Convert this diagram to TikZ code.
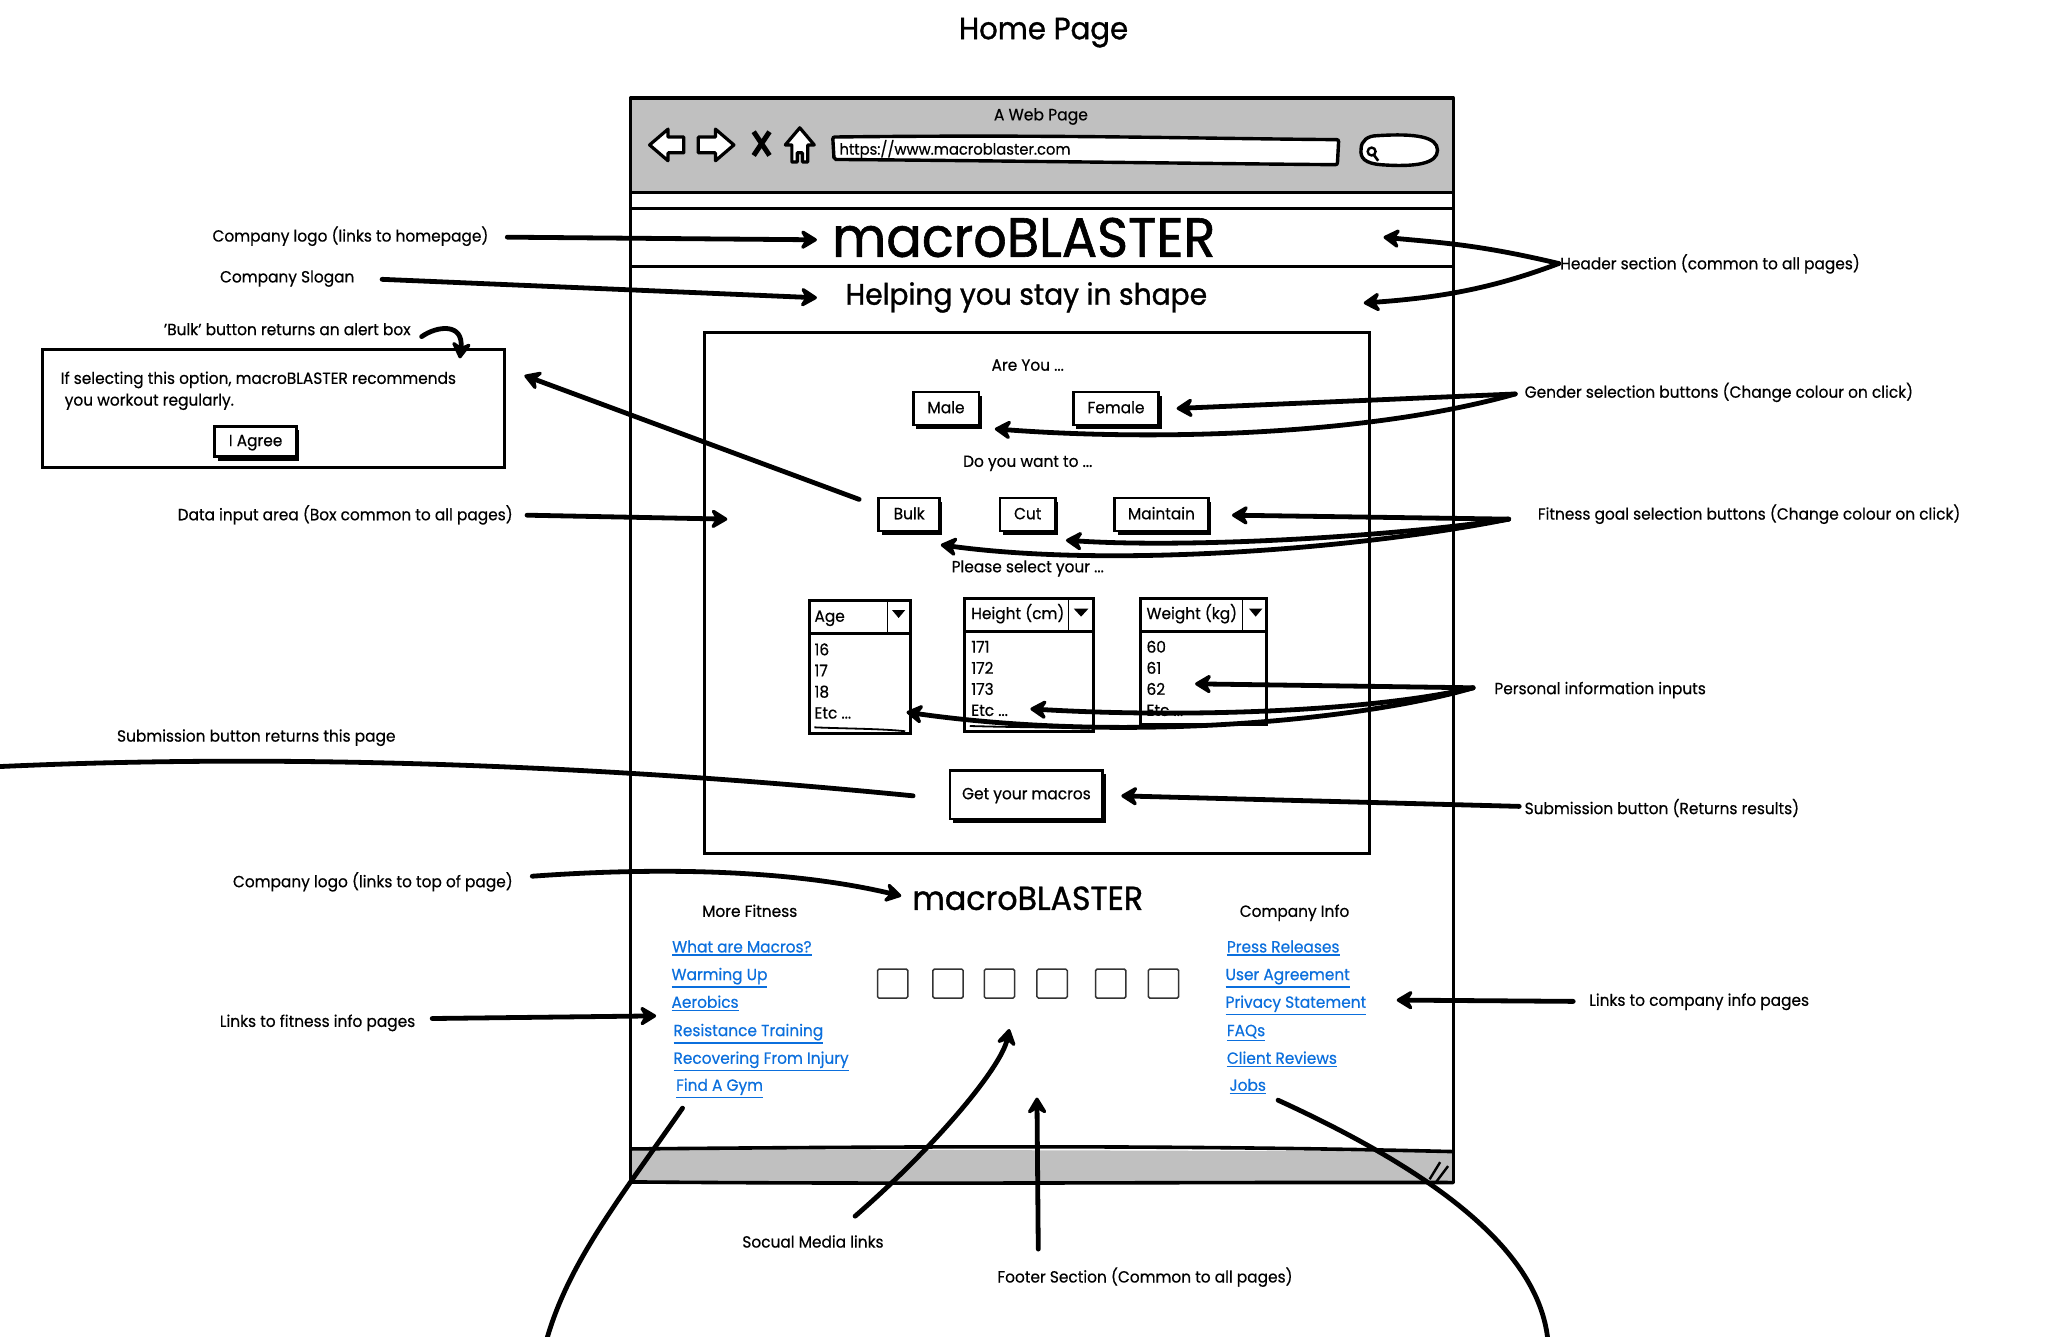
\documentclass[tikz,border=0pt]{standalone}
\usepackage{fontspec}
\setmainfont{Poppins}[FakeStretch=0.95,FakeBold=0.5]
\usetikzlibrary{arrows.meta,shadows,positioning}
\newdimen\uu \uu=1.3176pt
\definecolor{greybar}{HTML}{C0C0C0}
\definecolor{linkblue}{HTML}{0B6FDD}
\definecolor{sqline}{HTML}{333333}
\newcommand{\lk}[1]{\leavevmode\smash{\rlap{\vtop{\hbox{\phantom{#1}}\kern1.6pt\hrule height 1.6pt}}}#1}
\tikzset{
  lab/.style={font=\fontsize{16.2}{20}\selectfont,inner sep=0pt,text=black,yshift=-1pt,text height=13pt,text depth=3.5pt},
  big/.style={lab,text height={},text depth={},font={\fontsize{#1}{#1}\selectfont\addfontfeature{FakeBold=1.1}}},
  lft/.style={lab,anchor=west},
  conn/.style={line width=4.8pt,line cap=round,-{Stealth[length=20pt,width=24pt,inset=7pt,round]}},
  plainconn/.style={line width=4.8pt,line cap=round},
  btn/.style={draw=black,fill=white,line width=2.8pt,lab,yshift=1pt,
     general shadow={fill=black,shadow xshift=3pt,shadow yshift=-4pt}},
  lnk/.style={lab,anchor=west,text=linkblue},
  sq/.style={draw=sqline,line width=1.5pt,fill=white,rounded corners=1.5pt,minimum width=23\uu,minimum height=22\uu,inner sep=0pt},
  dropbox/.style={draw=black,line width=3pt,fill=white},
  wline/.style={line width=3.6pt,line join=round},
  icon/.style={draw=black,fill=white,line width=3.2pt,line join=round},
}
\begin{document}
\begin{tikzpicture}[x=\uu,y=-\uu]
\useasboundingbox (0,0) rectangle (1568,1014);
% title
\node[big=30.7] (title) at (792,24) {Home Page};
% browser window
\draw[wline,fill=white] (478.5,74.5) rectangle (1103,897);
\fill[greybar] (478.5,74.5) rectangle (1103,146);
\draw[wline] (478.5,74.5) -- (1103,74.5);
\draw[wline] (478.5,74.5) -- (478.5,146) (1103,74.5) -- (1103,146);
\draw[wline] (478.5,146) -- (1103,146);
\draw[line width=3pt] (478.5,158) -- (1103,158) -- (1103,202.5) -- (478.5,202.5) -- cycle;
\node[lab,font=\fontsize{16.4}{19}\selectfont] (wtitle) at (790,87) {A Web Page};
% toolbar icons
\draw[icon] (493,110) -- (507,98) -- (507,104) -- (519,104) -- (519,116) -- (507,116) -- (507,122) -- cycle;
\draw[icon] (557,110) -- (543,98) -- (543,104) -- (530,104) -- (530,116) -- (543,116) -- (543,122) -- cycle;
\draw[line width=5pt] (572,100) -- (584,118) (584,100) -- (572,118);
\draw[icon] (607,97) -- (618,110) -- (613,110) -- (613,123) -- (609,123) -- (609,116) -- (605,116) -- (605,123) -- (601,123) -- (601,110) -- (596,110) -- cycle;
\draw[line width=3.4pt,fill=white,rounded corners=2pt] (632,104) .. controls (800,102) and (900,105) .. (1016,106) -- (1015,125) .. controls (900,124) and (760,122) .. (633,121) -- cycle;
\node[lft,font=\fontsize{15.5}{19}\selectfont] (url) at (637,113) {https://www.macroblaster.com};
\draw[line width=3.4pt,fill=white] (1045,103) .. controls (1075,101) and (1091,104) .. (1091,114) .. controls (1091,124) and (1075,127) .. (1048,125) .. controls (1036,124) and (1032,120) .. (1033,113) .. controls (1033,107) and (1038,103) .. (1045,103) -- cycle;
\draw[line width=2.4pt] (1041,115) circle (3);
\draw[line width=2.6pt] (1043,118) -- (1046,122);
% footer bar
\fill[greybar] (478.5,872) -- (1103,874) -- (1103,897.5) -- (478.5,897.5) -- cycle;
\draw[wline] (478.5,872) .. controls (700,870) and (900,869) .. (1103,874);
\draw[wline] (478.5,897) .. controls (700,899) and (900,897) .. (1103,897.5);
\draw[wline] (478.5,872) -- (478.5,897) (1103,872) -- (1103,897.5);
\draw[line width=2.4pt] (1085,895) -- (1093,882) (1090,897) -- (1099,885);
% header content
\node[big=55.3] (logo) at (777,179.5) {macroBLASTER};
\node[big=29.6] (slogan) at (779,225) {Helping you stay in shape};
% data box
\draw[line width=3pt] (535,252) rectangle (1039,648);
\node[lab] (areyou) at (780,277) {Are You ...};
\node[btn,minimum width=50\uu,minimum height=25\uu] (male) at (718,310) {Male};
\node[btn,minimum width=65\uu,minimum height=25\uu] (female) at (847,310) {Female};
\node[lab] (doyou) at (780,350) {Do you want to ...};
\node[btn,minimum width=46\uu,minimum height=25\uu] (bulk) at (690,390.5) {Bulk};
\node[btn,minimum width=42\uu,minimum height=25\uu] (cut) at (780,390.5) {Cut};
\node[btn,minimum width=71\uu,minimum height=25\uu] (maintain) at (881.5,390.5) {Maintain};
\node[lab] (please) at (780,430) {Please select your ...};
% dropdowns
\draw[dropbox] (614,455.5) rectangle (691,481);
\draw[dropbox] (614,481) rectangle (691,557);
\draw[line width=1.8pt] (673.5,456) -- (673.5,480);
\fill (677,463) -- (687,463) -- (682,469) -- cycle;
\draw[line width=1.8pt] (618,552) .. controls (640,553) and (670,553) .. (687,555);
\node[lft] (age) at (618,467.5) {Age};
\node[lft] (a1) at (618,493) {16};
\node[lft] (a2) at (618,509) {17};
\node[lft] (a3) at (618,525) {18};
\node[lft] (a4) at (618,541) {Etc ...};
\draw[dropbox] (732,454) rectangle (830,479);
\draw[dropbox] (732,479) rectangle (830,555);
\draw[line width=1.8pt] (811,454) -- (811,479);
\fill (815,462) -- (826,462) -- (820.5,468) -- cycle;
\draw[line width=1.8pt] (736,551) .. controls (770,552) and (800,552) .. (827,553);
\node[lft] (hh) at (737,465.5) {Height (cm)};
\node[lft] (h1) at (737,491) {171};
\node[lft] (h2) at (737,507) {172};
\node[lft] (h3) at (737,523) {173};
\node[lft] (h4) at (737,539) {Etc ...};
\draw[dropbox] (865.5,454) rectangle (961,479);
\draw[dropbox] (865.5,479) rectangle (961,550);
\draw[line width=1.8pt] (943,454) -- (943,479);
\fill (948,462) -- (958,462) -- (953,468) -- cycle;
\node[lft] (wh) at (870,465.5) {Weight (kg)};
\node[lft] (w1) at (870,491) {60};
\node[lft] (w2) at (870,507) {61};
\node[lft] (w3) at (870,523) {62};
\node[lft] (w4) at (870,539) {Etc ...};
\node[btn,minimum width=116\uu,minimum height=37\uu] (get) at (779,603) {Get your macros};
% footer content
\node[big=33.3] (flogo) at (780,681) {macroBLASTER};
\node[lab] (morefit) at (569,691.5) {More Fitness};
\node[lab] (coinfo) at (982.5,691.5) {Company Info};
\node[lnk] (l1) at (510,718.5) {\lk{What are Macros?}};
\node[lnk] (l2) at (509.5,739.5) {\lk{Warming Up}};
\node[lnk] (l3) at (509.5,760.5) {\lk{Aerobics}};
\node[lnk] (l4) at (511,782) {\lk{Resistance Training}};
\node[lnk] (l5) at (511,803) {\lk{Recovering From Injury}};
\node[lnk] (l6) at (513,823.5) {\lk{Find A Gym}};
\node[lnk] (r1) at (931,718.5) {\lk{Press Releases}};
\node[lnk] (r2) at (930,739.5) {\lk{User Agreement}};
\node[lnk] (r3) at (930,760.5) {\lk{Privacy Statement}};
\node[lnk] (r4) at (931,782) {\lk{FAQs}};
\node[lnk] (r5) at (931,803) {\lk{Client Reviews}};
\node[lnk] (r6) at (933,823.5) {\lk{Jobs}};
\node[sq] (s1) at (677.5,746.5) {};
\node[sq] (s2) at (719.5,746.5) {};
\node[sq] (s3) at (758.5,746.5) {};
\node[sq] (s4) at (798.5,746.5) {};
\node[sq] (s5) at (843,746.5) {};
\node[sq] (s6) at (883,746.5) {};
% alert box
\draw[line width=3pt,fill=white] (32,265) rectangle (383,355);
\node[lft] (al1) at (46,287) {If selecting this option, macroBLASTER recommends};
\node[lft] (al2) at (49,303.5) {you workout regularly.};
\node[btn,minimum width=62\uu,minimum height=23\uu] (agree) at (194,335) {I Agree};
% labels
\node[lab] (tlogo) at (266,179) {Company logo (links to homepage)};
\node[lab] (tslogan) at (218,210) {Company Slogan};
\node[lab] (tbulk) at (218,250) {'Bulk' button returns an alert box};
\node[lab] (tdata) at (262,390.5) {Data input area (Box common to all pages)};
\node[lab] (tsub) at (194.5,558.5) {Submission button returns this page};
\node[lab] (tfoot) at (283,669) {Company logo (links to top of page)};
\node[lab] (tfit) at (241,775) {Links to fitness info pages};
\node[lft] (thead) at (1184,200) {Header section (common to all pages)};
\node[lft] (tgen) at (1157,297.5) {Gender selection buttons (Change colour on click)};
\node[lft] (tgoal) at (1167,390) {Fitness goal selection buttons (Change colour on click)};
\node[lft] (tpers) at (1134,522.5) {Personal information inputs};
\node[lft] (tres) at (1157,613.5) {Submission button (Returns results)};
\node[lft] (tco) at (1206,759) {Links to company info pages};
\node[lab] (tsoc) at (617,942.5) {Socual Media links};
\node[lab] (tfsec) at (869,969) {Footer Section (Common to all pages)};
% connector ends
\coordinate (c1) at (385,180);   \coordinate (c1e) at (620,182);
\coordinate (c2) at (290,212);   \coordinate (c2e) at (620,226);
\coordinate (c3) at (320,255.5); \coordinate (c3e) at (349,272);
\coordinate (c4) at (652,379);   \coordinate (c4e) at (398,285);
\coordinate (c5) at (400,391);   \coordinate (c5e) at (552,394);
\coordinate (c6) at (1183,200);  \coordinate (c6a) at (1050,180); \coordinate (c6b) at (1035,230);
\coordinate (c7) at (1150,299);  \coordinate (c7a) at (893,310);  \coordinate (c7b) at (755,325.5);
\coordinate (c8) at (1145,394);  \coordinate (c8a) at (935,391);  \coordinate (c8b) at (809,410); \coordinate (c8c) at (714,413.5);
\coordinate (c9) at (1118,522);  \coordinate (c9a) at (907,519);  \coordinate (c9b) at (782,538); \coordinate (c9c) at (688,540.5);
\coordinate (c10) at (1153,612); \coordinate (c10e) at (851,604);
\coordinate (c11) at (693,604);  \coordinate (c11e) at (-5,582);
\coordinate (c12) at (404,665);  \coordinate (c12e) at (684,680);
\coordinate (c13) at (328,773);  \coordinate (c13e) at (498,771);
\coordinate (c14) at (1194,760); \coordinate (c14e) at (1060,759);
\coordinate (c15) at (649,923);  \coordinate (c15e) at (766,781);
\coordinate (c16) at (788,948);  \coordinate (c16e) at (787,833);
\coordinate (c17) at (518,841);  \coordinate (c17e) at (414,1020);
\coordinate (c18) at (970,835);  \coordinate (c18e) at (1175,1020);
% connectors
\draw[conn] (c1) -- (c1e);
\draw[conn] (c2) -- (c2e);
\draw[conn] (c3) .. controls (332,247) and (352,245) .. (c3e);
\draw[conn] (c4) -- (c4e);
\draw[conn] (c5) -- (c5e);
\draw[conn] (c6) .. controls (1120,185) and (1090,184) .. (c6a);
\draw[conn] (c6) .. controls (1130,220) and (1090,226) .. (c6b);
\draw[conn] (c7) -- (c7a);
\draw[conn] (c7) .. controls (1040,330) and (880,335) .. (c7b);
\draw[conn] (c8) -- (c8a);
\draw[conn] (c8) .. controls (1050,408) and (900,416) .. (c8b);
\draw[conn] (c8) .. controls (1040,415) and (850,432) .. (c8c);
\draw[conn] (c9) -- (c9a);
\draw[conn] (c9) .. controls (1040,540) and (900,545) .. (c9b);
\draw[conn] (c9) .. controls (1040,545) and (860,565) .. (c9c);
\draw[conn] (c10) -- (c10e);
\draw[plainconn] (c11) .. controls (500,585) and (250,570) .. (c11e);
\draw[conn] (c12) .. controls (500,658) and (600,660) .. (c12e);
\draw[conn] (c13) -- (c13e);
\draw[conn] (c14) -- (c14e);
\draw[conn] (c15) .. controls (710,870) and (760,810) .. (c15e);
\draw[conn] (c16) -- (c16e);
\draw[plainconn] (c17) .. controls (470,910) and (430,960) .. (c17e);
\draw[plainconn] (c18) .. controls (1090,890) and (1170,950) .. (c18e);
\end{tikzpicture}
\end{document}
